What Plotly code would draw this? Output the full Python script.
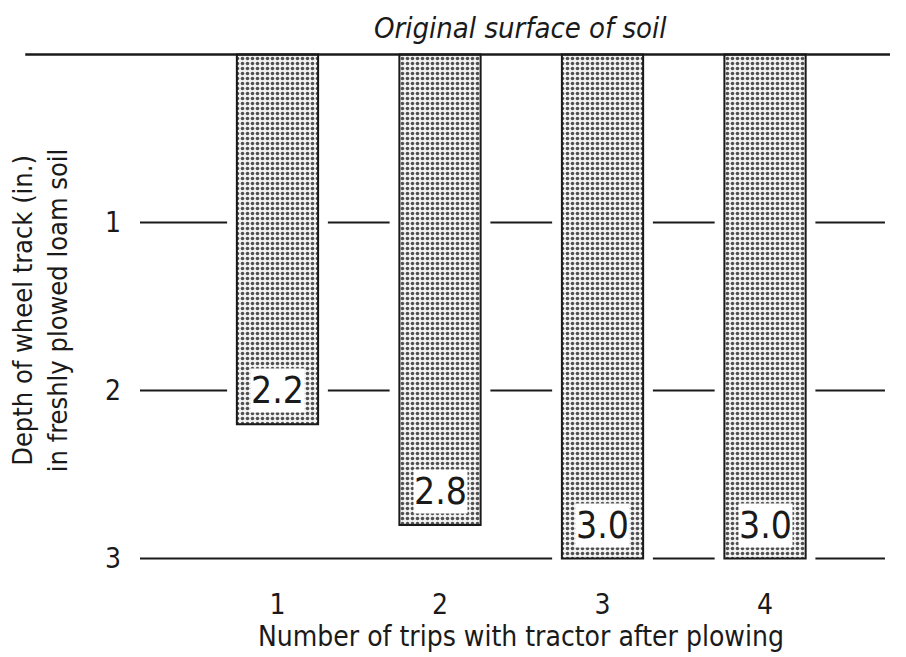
import plotly.graph_objects as go

trips = [1, 2, 3, 4]
depths = [2.2, 2.8, 3.0, 3.0]
depth_labels = ["2.2", "2.8", "3.0", "3.0"]
depth_ticks = [1, 2, 3]
x_tick_labels = ["1", "2", "3", "4"]

FONT = "DejaVu Sans Condensed, Liberation Sans Narrow, Arial Narrow, sans-serif"
INK = "#1a1a1a"

BAR_W = 0.5
GAP = 0.31
X_RANGE = [0.154, 4.769]
GRID_X0, GRID_X1 = 0.154, 4.738

fig = go.Figure()
fig.add_trace(go.Bar(
    x=trips, y=depths, base=0, width=BAR_W,
    marker=dict(color="#d8d8d8",
                line=dict(color=INK, width=2),
                pattern=dict(shape=".", size=5, solidity=0.4,
                             fgcolor="#505050", bgcolor="#f2f2f2", fillmode="replace")),
    hoverinfo="skip", showlegend=False,
))

shapes = []
# broken reference lines at each depth
for lvl in depth_ticks:
    xs = [GRID_X0]
    for t, d in zip(trips, depths):
        if d >= lvl:
            xs.append(t - GAP)
            xs.append(t + GAP)
    xs.append(GRID_X1)
    for i in range(0, len(xs), 2):
        shapes.append(dict(type="line", xref="x", yref="y", x0=xs[i], x1=xs[i + 1],
                           y0=lvl, y1=lvl, line=dict(color=INK, width=2)))
# original surface line
shapes.append(dict(type="line", xref="paper", yref="y", x0=-0.153, x1=1.0,
                   y0=0, y1=0, line=dict(color=INK, width=2.5)))

annotations = []
for t, d, lab in zip(trips, depths, depth_labels):
    annotations.append(dict(x=t, y=d, xref="x", yref="y", text=lab, showarrow=False,
                            yanchor="bottom", yshift=11,
                            font=dict(family=FONT, size=37, color=INK),
                            bgcolor="white", borderpad=0))
annotations.append(dict(x=0.507, y=1.0345, xref="paper", yref="paper",
                        text="<i>Original surface of soil</i>", showarrow=False,
                        xanchor="center", yanchor="middle",
                        font=dict(family=FONT, size=29, color=INK)))
annotations.append(dict(x=-0.1333, y=0.493, xref="paper", yref="paper",
                        text="Depth of wheel track (in.)<br>in freshly plowed loam soil",
                        showarrow=False, textangle=-90, xanchor="center", yanchor="middle",
                        font=dict(family=FONT, size=27, color=INK)))
annotations.append(dict(x=0.508, y=-0.134, xref="paper", yref="paper",
                        text="Number of trips with tractor after plowing",
                        showarrow=False, xanchor="center", yanchor="middle",
                        font=dict(family=FONT, size=28, color=INK)))

fig.update_layout(
    width=898, height=649,
    margin=dict(l=132, r=16, t=38, b=90),
    paper_bgcolor="white", plot_bgcolor="white",
    shapes=shapes, annotations=annotations,
    xaxis=dict(range=X_RANGE, tickvals=trips, ticktext=x_tick_labels,
               showgrid=False, zeroline=False, showline=False, ticks="",
               ticklabelstandoff=18,
               tickfont=dict(family=FONT, size=28, color=INK)),
    yaxis=dict(range=[3.05, -0.05], tickvals=depth_ticks,
               ticktext=[str(v) for v in depth_ticks],
               showgrid=False, zeroline=False, showline=False, ticks="",
               ticklabelstandoff=18,
               tickfont=dict(family=FONT, size=28, color=INK)),
)

fig.write_html("out.html")
